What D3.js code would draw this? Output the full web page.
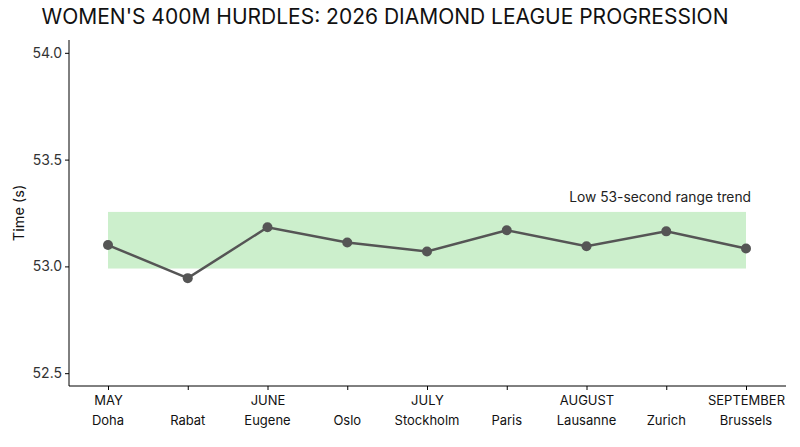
<!DOCTYPE html><html><head><meta charset="utf-8"><script src="https://cdn.jsdelivr.net/npm/d3@7"></script>
<style>body{margin:0;background:#fff}text{font-family:Inter,"Noto Sans",sans-serif}</style></head><body>
<svg id="c" width="800" height="447"></svg>
<script>
const meets=["Doha","Rabat","Eugene","Oslo","Stockholm","Paris","Lausanne","Zurich","Brussels"];
const months=["MAY","","JUNE","","JULY","","AUGUST","","SEPTEMBER"];
const times=[53.10,52.945,53.183,53.112,53.07,53.169,53.094,53.164,53.084];
const band=[52.99,53.255];
const yTicks=[52.5,53.0,53.5,54.0];
const svg=d3.select("#c");
const L=69,R=786,T=40,B=386;
const x=d3.scalePoint().domain(meets).range([108,746]);
const y=d3.scaleLinear().domain([52.44,54.06]).range([B,T]);
svg.append("text").attr("x",385).attr("y",24).attr("text-anchor","middle").attr("font-size",21).attr("fill","#111").text("WOMEN'S 400M HURDLES: 2026 DIAMOND LEAGUE PROGRESSION");
svg.append("rect").attr("x",108).attr("width",746-108).attr("y",y(band[1])).attr("height",y(band[0])-y(band[1])).attr("fill","#c9eec9").attr("opacity",0.95);
svg.append("text").attr("x",751).attr("y",y(band[1])-10).attr("text-anchor","end").attr("font-size",13.8).attr("fill","#222").text("Low 53-second range trend");
const ya=svg.append("g").attr("transform",`translate(${L},0)`).call(d3.axisLeft(y).tickValues(yTicks).tickFormat(d3.format(".1f")).tickSize(4).tickSizeOuter(0));
ya.select(".domain").attr("d",`M0,${T}V${B}`);
ya.selectAll("text").attr("font-size",14).attr("fill","#333");
const xa=svg.append("g").attr("transform",`translate(0,${B})`).call(d3.axisBottom(x).tickSize(4).tickSizeOuter(0).tickFormat((d,i)=>months[i]));
xa.select(".domain").attr("d",`M${L},0H${R}`);
xa.selectAll("text").attr("font-size",13).attr("fill","#111").attr("dy","0.9em");
svg.append("g").selectAll("text").data(meets).join("text").attr("x",d=>x(d)).attr("y",425).attr("text-anchor","middle").attr("font-size",13).attr("fill","#111").text(d=>d);
svg.append("text").attr("transform",`translate(24,${(T+B)/2}) rotate(-90)`).attr("text-anchor","middle").attr("font-size",14.5).attr("fill","#111").text("Time (s)");
svg.append("path").datum(times).attr("fill","none").attr("stroke","#555").attr("stroke-width",2.5).attr("d",d3.line().x((d,i)=>x(meets[i])).y(d=>y(d)));
svg.append("g").selectAll("circle").data(times).join("circle").attr("cx",(d,i)=>x(meets[i])).attr("cy",d=>y(d)).attr("r",5).attr("fill","#555");
</script></body></html>
